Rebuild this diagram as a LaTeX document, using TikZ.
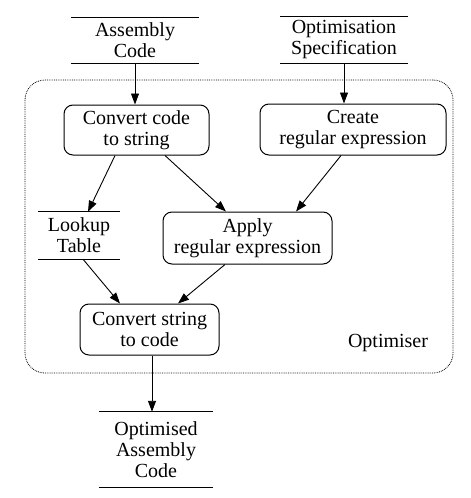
\documentclass[tikz,border=0pt]{standalone}
\usepackage{fontspec}
\setmainfont{Liberation Serif}
\usetikzlibrary{arrows.meta}
\begin{document}
\begin{tikzpicture}[x=1pt,y=-1pt,
  every node/.style={font=\fontsize{20}{21}\selectfont, align=center, inner sep=0pt},
  proc/.style={draw, line width=1pt, rounded corners=9pt},
  store/.style={},
  arr/.style={line width=0.9pt, -{Triangle[length=11pt,width=8pt]}},
  sline/.style={line width=1pt}]
\useasboundingbox (0,0) rectangle (471,498);
% frame
\node[draw, densely dotted, line width=0.8pt, rounded corners=20pt, minimum width=428pt, minimum height=293pt] (frame) at (239,226.5) {};
\node (optlabel) at (388,343) {Optimiser};
% stores
\node[store, minimum width=128pt, minimum height=45pt] (asm) at (135,40.5) {Assembly\\Code};
\node[store, minimum width=128pt, minimum height=46pt] (spec) at (344,40) {Optimisation\\Specification};
\node[store, minimum width=82pt, minimum height=47pt] (look) at (79,235.5) {Lookup\\Table};
\node[store, minimum width=114pt, minimum height=75pt] (out) at (156,449.5) {Optimised\\Assembly\\Code};
\foreach \n in {asm,spec,look,out}{
  \draw[sline] (\n.north west) -- (\n.north east);
  \draw[sline] (\n.south west) -- (\n.south east);
}
% processes
\node[proc, minimum width=145pt, minimum height=50pt] (c1) at (136.5,130) {Convert code\\to string};
\node[proc, minimum width=186pt, minimum height=51pt] (create) at (353,129.5) {Create\\regular expression};
\node[proc, minimum width=169pt, minimum height=52pt] (apply) at (247.5,238) {Apply\\regular expression};
\node[proc, minimum width=139pt, minimum height=51pt] (c2) at (149.5,329.5) {Convert string\\to code};
% arrows
\draw[arr] (asm.south) -- (asm.south |- c1.north);
\draw[arr] (spec.south) -- (spec.south |- create.north);
\draw[arr] ([xshift=-21.5pt]c1.south) -- ([xshift=9pt]look.north);
\draw[arr] ([xshift=28.5pt]c1.south) -- ([xshift=-21.5pt]apply.north);
\draw[arr] ([xshift=-12pt]create.south) -- ([xshift=48.5pt]apply.north);
\draw[arr] ([xshift=4pt]look.south) -- ([xshift=-29.5pt]c2.north);
\draw[arr] ([xshift=-22.5pt]apply.south) -- ([xshift=28.5pt]c2.north);
\draw[arr] ([xshift=2.5pt]c2.south) -- ([xshift=2.5pt]c2.south |- out.north);
\end{tikzpicture}
\end{document}
